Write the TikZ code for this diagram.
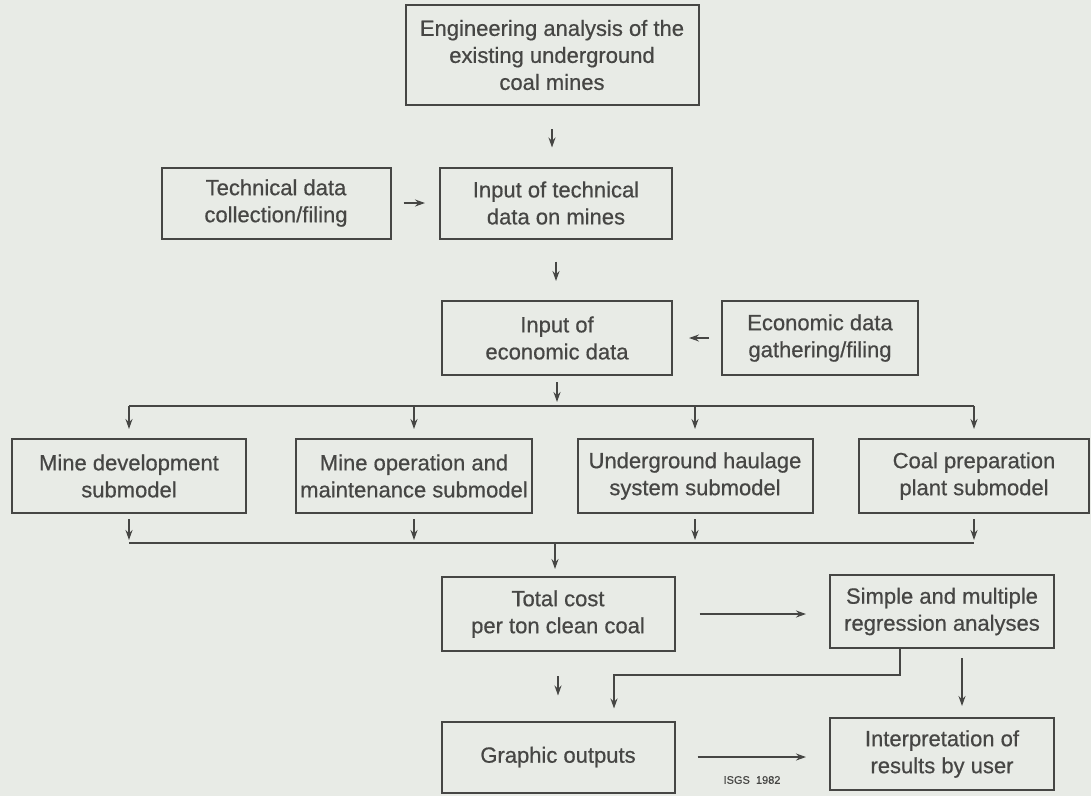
\documentclass[tikz,border=0pt]{standalone}
\usepackage{fontspec}
\setmainfont{Liberation Sans}[FakeBold=0.6]
\usetikzlibrary{arrows.meta}
\definecolor{bg}{HTML}{E8EBE6}
\definecolor{ink}{HTML}{464644}
\begin{document}
\begin{tikzpicture}[x=1pt,y=-1pt,
 box/.style={draw=ink, line width=2pt, text=ink, align=center, inner sep=0pt, font=\fontsize{22}{27}\selectfont},
 arr/.style={draw=ink, line width=1.7pt, -{Stealth[length=10pt,width=7pt]}},
 ln/.style={draw=ink, line width=1.7pt}]
\fill[bg] (0,0) rectangle (1091,796);
\useasboundingbox (0,0) rectangle (1091,796);

\node[box, minimum width=293pt, minimum height=100pt] (top) at (552,55) {Engineering analysis of the\\existing underground\\coal mines};
\node[box, minimum width=229pt, minimum height=71pt] (tech) at (276,203) {Technical data\\collection/filing};
\node[box, minimum width=232pt, minimum height=71pt] (intech) at (556,203) {Input of technical\\data on mines};
\node[box, minimum width=230pt, minimum height=74pt] (inecon) at (557,338) {Input of\\economic data};
\node[box, minimum width=196pt, minimum height=74pt] (econ) at (820,338) {Economic data\\gathering/filing};
\node[box, minimum width=234pt, minimum height=74pt] (sub1) at (129,476) {Mine development\\submodel};
\node[box, minimum width=236pt, minimum height=74pt] (sub2) at (414,476) {Mine operation and\\maintenance submodel};
\node[box, minimum width=235pt, minimum height=74pt] (sub3) at (695,476) {Underground haulage\\system submodel};
\node[box, minimum width=230pt, minimum height=74pt] (sub4) at (974,476) {Coal preparation\\plant submodel};
\node[box, minimum width=233pt, minimum height=74pt] (total) at (558,614) {Total cost\\per ton clean coal};
\node[box, minimum width=224pt, minimum height=73pt] (simple) at (942,611.5) {Simple and multiple\\regression analyses};
\node[box, minimum width=233pt, minimum height=71pt] (graphic) at (558,757) {Graphic outputs};
\node[box, minimum width=224pt, minimum height=72pt] (interp) at (942,754) {Interpretation of\\results by user};
\node[text=ink, inner sep=0pt, font=\fontsize{11}{13}\selectfont] (isgs) at (752,780) {ISGS\ \ 1982};

\coordinate (split) at (555,406);
\coordinate (join) at (555,543);
\coordinate (bend) at (614,675);
\coordinate (sx) at (900,0);
\coordinate (ax) at (962,0);

\draw[arr, shorten <=23pt, shorten >=19pt] (top.south) -- (top.south |- intech.north);
\draw[arr, shorten <=12pt, shorten >=14pt] (tech.east) -- (tech.east -| intech.west);
\draw[arr, shorten <=22pt, shorten >=19pt] (intech.south) -- (intech.south |- inecon.north);
\draw[arr, shorten <=12pt, shorten >=16pt] (econ.west) -- (econ.west -| inecon.east);
\draw[arr, shorten <=6pt, shorten >=4pt] (inecon.south) -- (inecon.south |- split);
\draw[ln] (sub1.north |- split) -- (sub4.north |- split);
\foreach \s in {sub1,sub2,sub3,sub4} {
  \draw[arr, shorten >=9pt] (\s.north |- split) -- (\s.north);
  \draw[arr, shorten <=5pt, shorten >=3pt] (\s.south) -- (\s.south |- join);
}
\draw[ln] (sub1.south |- join) -- (sub4.south |- join);
\draw[arr, shorten >=7pt] (join) -- (join |- total.north);
\draw[arr, shorten <=24pt, shorten >=23pt] (total.east) -- (total.east -| simple.west);
\draw[arr, shorten >=12pt] (simple.south -| sx) -- (sx |- bend) -- (bend) -- (bend |- graphic.north);
\draw[arr, shorten <=24pt, shorten >=25pt] (total.south) -- (total.south |- graphic.north);
\draw[arr, shorten <=9pt, shorten >=11pt] (simple.south -| ax) -- (interp.north -| ax);
\draw[arr, shorten <=22pt, shorten >=23pt] (graphic.east) -- (graphic.east -| interp.west);
\end{tikzpicture}
\end{document}
